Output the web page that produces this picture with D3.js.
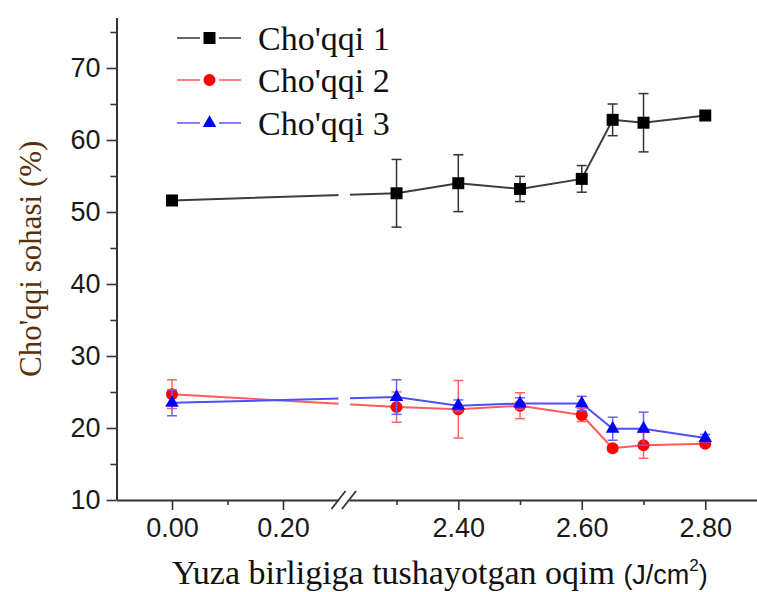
<!DOCTYPE html>
<html>
<head>
<meta charset="utf-8">
<script src="https://cdn.jsdelivr.net/npm/d3@7"></script>
<style>
  body { margin: 0; background: #fff; }
  .tick text { font-family: "Liberation Sans", Arial, sans-serif; font-size: 27px; fill: #1a1a1a; }
  .axis path, .axis line { stroke: #333; }
  .axis path { stroke-width: 2; }
  .axis line { stroke-width: 1.6; }
</style>
</head>
<body>
<div id="chart"></div>
<script>
// data
var fluence = [0.00, 2.30, 2.40, 2.50, 2.60, 2.65, 2.70, 2.80];
var peak1 = [51.6, 52.6, 54.0, 53.2, 54.6, 62.8, 62.4, 63.4];
var peak1Err = [0.6, 4.7, 3.95, 1.75, 1.85, 2.2, 4.05, 0.3];
var peak2 = [24.7, 22.9, 22.6, 23.1, 21.8, 17.2, 17.6, 17.8];
var peak2Err = [2.0, 2.1, 4.0, 1.8, 0.9, 0.4, 1.8, 0.3];
var peak3 = [23.5, 24.3, 23.1, 23.4, 23.4, 19.9, 19.9, 18.6];
var peak3Err = [1.8, 2.4, 0.8, 0.8, 1.0, 1.6, 2.3, 0.5];
var seriesNames = ["Cho'qqi 1", "Cho'qqi 2", "Cho'qqi 3"];

var yTicks = [10, 20, 30, 40, 50, 60, 70];
var yMinor = [15, 25, 35, 45, 55, 65, 75];
var xTicksLeft = [0.00, 0.20], xMinorLeft = [0.10];
var xTicksRight = [2.40, 2.60, 2.80], xMinorRight = [2.30, 2.50, 2.70];

var width = 757, height = 592;
var svg = d3.select("#chart").append("svg")
    .attr("width", width)
    .attr("height", height);

var y = d3.scaleLinear().domain([10, 77]).range([500, 17.6]);
// broken x axis: two pieces
var xLeft = d3.scaleLinear().domain([-0.1, 0.3]).range([116.5, 338.5]);
var xRight = d3.scaleLinear().domain([2.223, 2.9]).range([349, 767]);
function x(v) { return v < 1 ? xLeft(v) : xRight(v); }

var fmt = d3.format(".2f");

// x axis pieces
[[xLeft, xTicksLeft, xMinorLeft], [xRight, xTicksRight, xMinorRight]].forEach(function(p) {
  svg.append("g").attr("class", "axis")
      .attr("transform", "translate(0," + y(10) + ")")
      .call(d3.axisBottom(p[0]).tickValues(p[1]).tickFormat(fmt).tickSize(10).tickSizeOuter(0).tickPadding(8));
  var mg = svg.append("g").attr("class", "axis")
      .attr("transform", "translate(0," + y(10) + ")")
      .call(d3.axisBottom(p[0]).tickValues(p[2]).tickFormat("").tickSize(5));
  mg.select(".domain").remove();
});

// break marks
var breaks = [xLeft.range()[1], xRight.range()[0]];
svg.selectAll(".brk").data(breaks).enter().append("line")
    .attr("x1", function(d) { return d - 7; })
    .attr("x2", function(d) { return d + 7; })
    .attr("y1", y(10) + 9)
    .attr("y2", y(10) - 9)
    .attr("stroke", "#333")
    .attr("stroke-width", 1.8);

// y axis
svg.append("g").attr("class", "axis")
    .attr("transform", "translate(" + xLeft.range()[0] + ",0)")
    .call(d3.axisLeft(y).tickValues(yTicks).tickSize(10).tickSizeOuter(0).tickPadding(6));
var ym = svg.append("g").attr("class", "axis")
    .attr("transform", "translate(" + xLeft.range()[0] + ",0)")
    .call(d3.axisLeft(y).tickValues(yMinor).tickFormat("").tickSize(6));
ym.select(".domain").remove();

// axis titles
svg.append("text")
    .attr("transform", "translate(41," + (y(10) + y(77)) / 2 + ") rotate(-90)")
    .attr("text-anchor", "middle")
    .style("font-family", "'Liberation Serif', 'Times New Roman', serif")
    .style("font-size", "31px")
    .style("fill", "#5a300a")
    .text("Cho'qqi sohasi (%)");

var xt = svg.append("text")
    .attr("x", 172)
    .attr("y", 584)
    .style("font-family", "'Liberation Serif', 'Times New Roman', serif")
    .style("font-size", "34px")
    .style("fill", "#111");
xt.append("tspan").text("Yuza birligiga tushayotgan oqim ");
xt.append("tspan").style("font-family", "'Liberation Sans', Arial, sans-serif").style("font-size", "27px").text("(J/cm");
xt.append("tspan").style("font-family", "'Liberation Sans', Arial, sans-serif").style("font-size", "17px").attr("dy", -13).text("2");
xt.append("tspan").style("font-family", "'Liberation Sans', Arial, sans-serif").style("font-size", "27px").attr("dy", 13).text(")");

// clip so the connecting lines show the break gap
var clip = svg.append("defs").append("clipPath").attr("id", "gap");
clip.append("rect").attr("x", 0).attr("y", 0).attr("width", breaks[0]).attr("height", height);
clip.append("rect").attr("x", breaks[1] + 1).attr("y", 0).attr("width", width).attr("height", height);

var series = [
  { name: seriesNames[0], vals: peak1, err: peak1Err, line: "#3c3c3c", err_c: "#333", mark: "#000", sym: d3.symbolSquare, size: 144, leg: "#666" },
  { name: seriesNames[1], vals: peak2, err: peak2Err, line: "#ff5c5c", err_c: "#ff6464", mark: "#ff0000", sym: d3.symbolCircle, size: 113, leg: "#ff8080" },
  { name: seriesNames[2], vals: peak3, err: peak3Err, line: "#4f4fff", err_c: "#6464ff", mark: "#0000ff", sym: d3.symbolTriangle, size: 80, leg: "#8080ff" }
];

var line = d3.line()
    .x(function(d) { return x(d.x); })
    .y(function(d) { return y(d.v); });

series.forEach(function(s) {
  var pts = fluence.map(function(f, i) { return { x: f, v: s.vals[i], e: s.err[i] }; });
  var g = svg.append("g");

  g.append("path")
      .datum(pts)
      .attr("d", line)
      .attr("clip-path", "url(#gap)")
      .attr("fill", "none")
      .attr("stroke", s.line)
      .attr("stroke-width", 2);

  var eb = g.selectAll(".err").data(pts).enter().append("g")
      .attr("stroke", s.err_c)
      .attr("stroke-width", 1.5);
  eb.append("line")
      .attr("x1", function(d) { return x(d.x); })
      .attr("x2", function(d) { return x(d.x); })
      .attr("y1", function(d) { return y(d.v - d.e); })
      .attr("y2", function(d) { return y(d.v + d.e); });
  [-1, 1].forEach(function(sgn) {
    eb.append("line")
        .attr("x1", function(d) { return x(d.x) - 5; })
        .attr("x2", function(d) { return x(d.x) + 5; })
        .attr("y1", function(d) { return y(d.v + sgn * d.e); })
        .attr("y2", function(d) { return y(d.v + sgn * d.e); });
  });

  g.selectAll(".mk").data(pts).enter().append("path")
      .attr("d", d3.symbol().type(s.sym).size(s.size))
      .attr("transform", function(d) { return "translate(" + x(d.x) + "," + y(d.v) + ")"; })
      .attr("fill", s.mark);
});

// legend
var legRows = [38, 80, 123];
series.forEach(function(s, i) {
  var lg = svg.append("g").attr("transform", "translate(0," + legRows[i] + ")");
  lg.append("line").attr("x1", 177).attr("x2", 200).attr("stroke", s.leg).attr("stroke-width", 2);
  lg.append("line").attr("x1", 219).attr("x2", 241).attr("stroke", s.leg).attr("stroke-width", 2);
  lg.append("path")
      .attr("d", d3.symbol().type(s.sym).size(s.size))
      .attr("transform", "translate(209.5,0)")
      .attr("fill", s.mark);
  lg.append("text")
      .attr("x", 258)
      .attr("y", 11.5)
      .style("font-family", "'Liberation Serif', 'Times New Roman', serif")
      .style("font-size", "34px")
      .style("fill", "#111")
      .text(s.name);
});
</script>
</body>
</html>
